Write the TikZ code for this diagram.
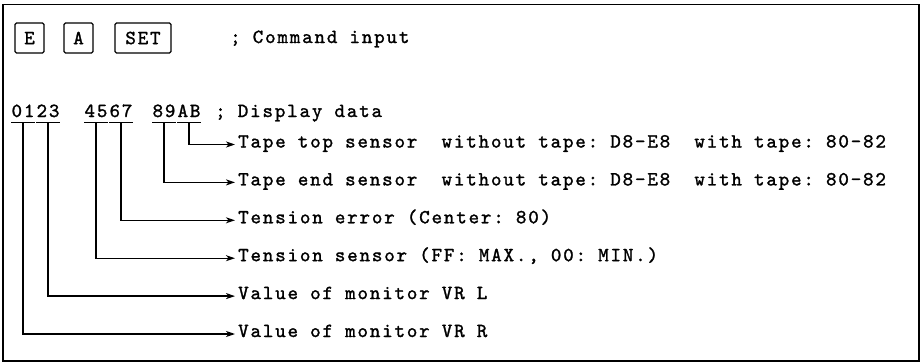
\documentclass[tikz,border=0pt]{standalone}
\usepackage{fontspec}
\usetikzlibrary{arrows.meta}
\newfontfamily\twfam{lmmono10-regular.otf}[LetterSpace=9.25,FakeBold=1.4]
\newcommand\twfont{\twfam\fontsize{20}{22}\selectfont\fontdimen2\font=12.1pt\relax\frenchspacing}
\tikzset{
  lbl/.style={anchor=base west, inner sep=0pt, font=\twfont},
  pair/.style={anchor=base, inner xsep=0pt, inner ysep=5pt, font=\twfont},
  keybox/.style={draw, line width=1.4pt, rounded corners=1.5pt, minimum height=30pt, inner sep=0pt, font=\twfont},
  conn/.style={line width=1.3pt, -{Stealth[length=9pt,width=6pt,inset=2.5pt]}},
  uline/.style={line width=1.3pt}
}
\begin{document}
\begin{tikzpicture}[x=1pt,y=-1pt]
\useasboundingbox (0,0) rectangle (922,364);
\draw[line width=1.8pt] (3,4.5) rectangle (919,361);
% command row
\node[keybox, minimum width=29pt] (kE) at (29.5,38) {E};
\node[keybox, minimum width=29pt] (kA) at (78.5,38) {A};
\node[keybox, minimum width=56pt] (kS) at (143,38) {SET};
\node[lbl] (cmd) at (230,43) {; Command input};
% display row
\node[pair] (p01) at (23,117) {01};
\node[pair] (p23) at (48,117) {23};
\node[pair] (p45) at (96,117) {45};
\node[pair] (p67) at (121,117) {67};
\node[pair] (p89) at (164,117) {89};
\node[pair] (pAB) at (189,117) {AB};
\node[lbl] (disp) at (215,117) {; Display data};
\foreach \p in {p01,p23,p45,p67,p89,pAB}{
  \draw[uline] (\p.south west) -- (\p.south east);
}
% descriptions
\node[lbl] (t1) at (238,147.5) {Tape top sensor\ \ without tape: D8-E8\ \ with tape: 80-82};
\node[lbl] (t2) at (238,185.4) {Tape end sensor\ \ without tape: D8-E8\ \ with tape: 80-82};
\node[lbl] (t3) at (238,223.3) {Tension error (Center: 80)};
\node[lbl] (t4) at (238,261.2) {Tension sensor (FF: MAX., 00: MIN.)};
\node[lbl] (t5) at (238,299.1) {Value of monitor VR L};
\node[lbl] (t6) at (238,337) {Value of monitor VR R};
% connectors
\draw[conn] (pAB.south) |- ([xshift=-3pt,yshift=3pt]t1.base west);
\draw[conn] (p89.south) |- ([xshift=-3pt,yshift=3pt]t2.base west);
\draw[conn] (p67.south) |- ([xshift=-3pt,yshift=3pt]t3.base west);
\draw[conn] (p45.south) |- ([xshift=-3pt,yshift=3pt]t4.base west);
\draw[conn] (p23.south) |- ([xshift=-3pt,yshift=3pt]t5.base west);
\draw[conn] (p01.south) |- ([xshift=-3pt,yshift=3pt]t6.base west);
\end{tikzpicture}
\end{document}
